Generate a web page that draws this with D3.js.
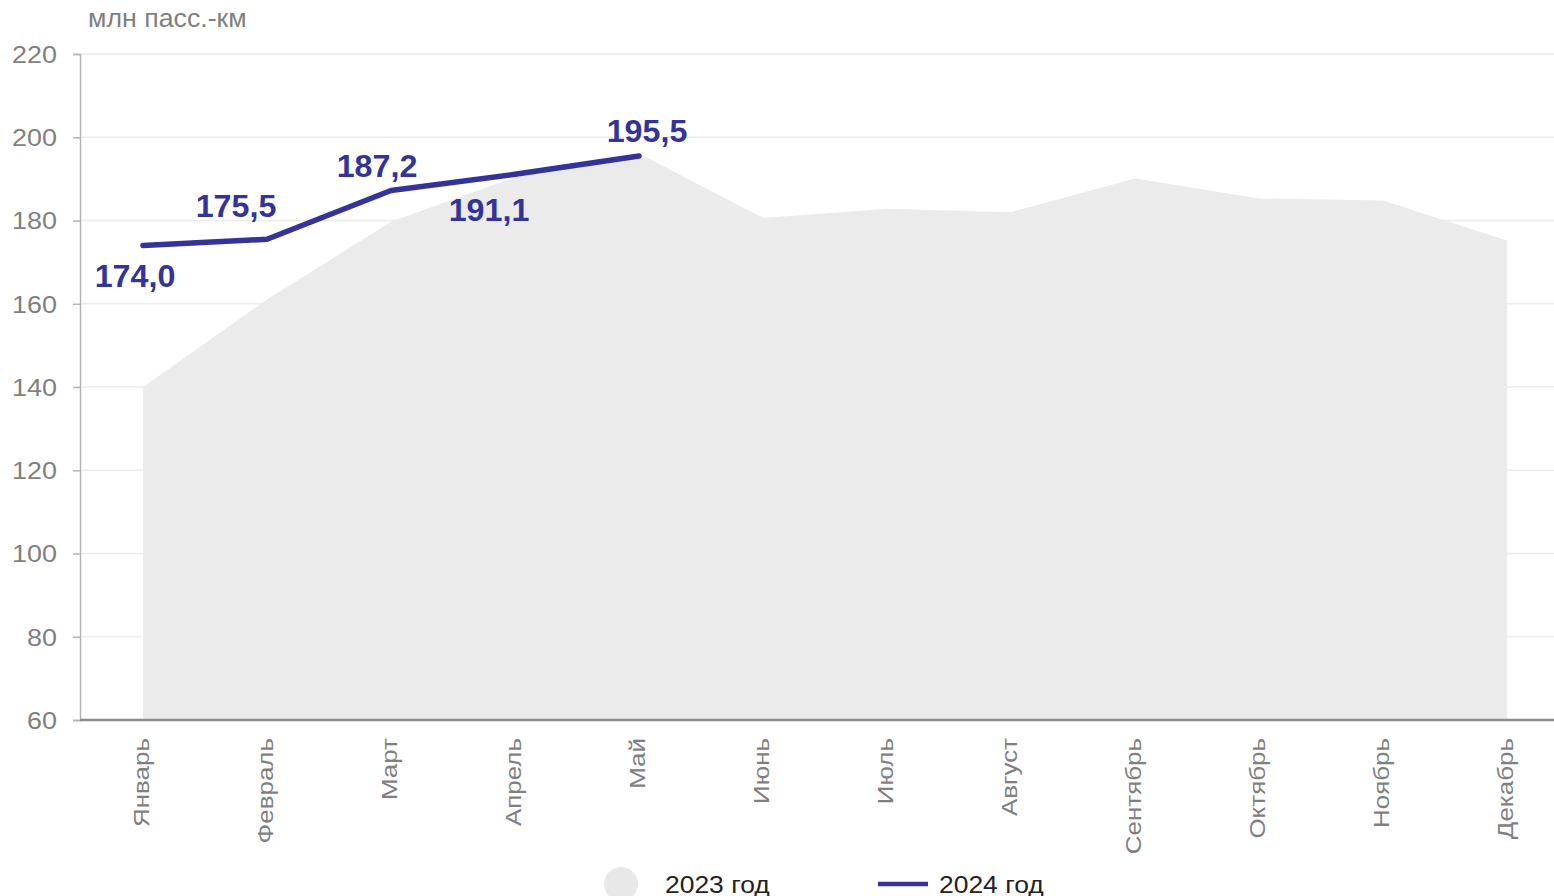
<!DOCTYPE html>
<html>
<head>
<meta charset="utf-8">
<script src="https://cdn.jsdelivr.net/npm/d3@7"></script>
<style>
  html, body { margin: 0; padding: 0; background: #fff; }
  svg { display: block; font-family: "Liberation Sans", Arial, sans-serif; }
</style>
</head>
<body>
<svg id="chart" width="1554" height="896"></svg>
<script>
// ---- data ----
const months = ["Январь","Февраль","Март","Апрель","Май","Июнь","Июль","Август","Сентябрь","Октябрь","Ноябрь","Декабрь"];
const values2023 = [140.0, 161.0, 179.7, 190.4, 196.1, 180.6, 182.8, 182.0, 190.1, 185.3, 184.8, 175.2];
const values2024 = [174.0, 175.5, 187.2, 191.1, 195.5];
const yTicks = [60, 80, 100, 120, 140, 160, 180, 200, 220];
const unitLabel = "млн пасс.-км";
const legendLabels = ["2023 год", "2024 год"];

// ---- layout ----
const plotLeft = 80, plotRight = 1554;
const svg = d3.select("#chart");

const x = d3.scalePoint().domain(months).range([143, 1507]);
const y = d3.scaleLinear().domain([60, 220]).range([720, 54]);

const lineColor = "#333399";
const areaColor = "#ebebeb";
const textGray = "#7f7f7f";

// gridlines
svg.append("g").selectAll("line")
  .data(yTicks.filter(t => t !== 60))
  .join("line")
  .attr("x1", plotLeft).attr("x2", plotRight)
  .attr("y1", d => y(d)).attr("y2", d => y(d))
  .attr("stroke", "#ebebeb").attr("stroke-width", 1.5);

// area 2023
const area = d3.area()
  .x((d, i) => x(months[i]))
  .y0(y(60))
  .y1(d => y(d));
svg.append("path")
  .datum(values2023)
  .attr("d", area)
  .attr("fill", areaColor);

// y axis
const yAxis = d3.axisLeft(y).tickValues(yTicks).tickSize(7).tickFormat(d3.format("d"));
const gy = svg.append("g").attr("transform", `translate(${plotLeft},0)`).call(yAxis);
gy.select(".domain").attr("stroke", "#b3b3b3").attr("stroke-width", 1.5);
gy.selectAll(".tick line").attr("stroke", "#b3b3b3").attr("stroke-width", 1.5);
gy.selectAll(".tick text").remove();
gy.selectAll(".tick").append("text")
  .attr("fill", textGray)
  .attr("font-size", 23)
  .attr("text-anchor", "end")
  .attr("dy", "0.36em")
  .attr("transform", "translate(-23,0) scale(1.17,1)")
  .text(d => d);

// x axis (bottom line)
const xAxis = d3.axisBottom(x).tickSize(0).tickFormat("");
const gx = svg.append("g").attr("transform", `translate(0,${y(60)})`).call(xAxis);
gx.select(".domain").remove();
gx.append("line")
  .attr("x1", plotLeft).attr("x2", plotRight)
  .attr("stroke", "#8c8c8c").attr("stroke-width", 2.5);
gx.selectAll(".tick").append("text")
  .attr("fill", textGray)
  .attr("font-size", 22)
  .attr("text-anchor", "end")
  .attr("dy", 5.5)
  .attr("transform", "translate(0,18) rotate(-90) scale(1.18,1)")
  .text(d => d);

// line 2024
const line = d3.line()
  .x((d, i) => x(months[i]))
  .y(d => y(d));
svg.append("path")
  .datum(values2024)
  .attr("d", line)
  .attr("fill", "none")
  .attr("stroke", lineColor)
  .attr("stroke-width", 5.5)
  .attr("stroke-linecap", "round")
  .attr("stroke-linejoin", "round");

// data labels (offsets relative to points)
const labelOffsets = [[-8, 42], [-31, -22], [-14, -14], [-26, 47], [8, -14]];
const fmt = v => v.toFixed(1).replace(".", ",");
svg.append("g").selectAll("text")
  .data(values2024)
  .join("text")
  .attr("transform", (d, i) => `translate(${x(months[i]) + labelOffsets[i][0]},${y(d) + labelOffsets[i][1]}) scale(1.04,1)`)
  .attr("text-anchor", "middle")
  .attr("font-size", 31)
  .attr("font-weight", "bold")
  .attr("fill", lineColor)
  .text(d => fmt(d));

// unit label
svg.append("text")
  .attr("transform", "translate(88,27) scale(1.07,1)")
  .attr("font-size", 25)
  .attr("fill", textGray)
  .text(unitLabel);

// legend
const lg = svg.append("g");
lg.append("circle").attr("cx", 621).attr("cy", 884).attr("r", 17).attr("fill", "#e8e8e8");
lg.append("text")
  .attr("transform", "translate(665,893) scale(1.15,1)")
  .attr("font-size", 23).attr("fill", "#222")
  .text(legendLabels[0]);
lg.append("line")
  .attr("x1", 878).attr("x2", 928).attr("y1", 884).attr("y2", 884)
  .attr("stroke", lineColor).attr("stroke-width", 4.5);
lg.append("text")
  .attr("transform", "translate(939,893) scale(1.15,1)")
  .attr("font-size", 23).attr("fill", "#222")
  .text(legendLabels[1]);
</script>
</body>
</html>
